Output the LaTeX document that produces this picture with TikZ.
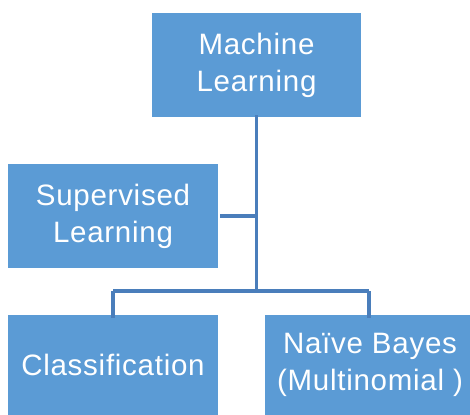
\documentclass[tikz,border=0pt]{standalone}
\usepackage{fontspec}
\setmainfont{Liberation Sans}[LetterSpace=2.5]
\definecolor{boxblue}{HTML}{5B9BD5}
\definecolor{lineblue}{HTML}{4A7EBB}
\begin{document}
\begin{tikzpicture}[x=1pt,y=-1pt,
  box/.style={fill=boxblue,draw=none,text=white,align=center,inner sep=0pt,
    font=\fontsize{29.5}{37}\selectfont},
  conn/.style={draw=lineblue,line width=3.2pt}]
\useasboundingbox (0,0) rectangle (470,414);
\fill[white] (0,0) rectangle (470,414);
\node[box,minimum width=209pt,minimum height=104pt] (ml) at (256.5,65) {Machine\\Learning};
\node[box,minimum width=210pt,minimum height=104pt] (sup) at (113,216) {Supervised\\Learning};
\node[box,minimum width=210pt,minimum height=100pt] (cls) at (113,365) {Classification};
\node[box,minimum width=210pt,minimum height=100pt] (nb) at (370,365) {Naïve Bayes\\(Multinomial )};
\coordinate (junc) at (256.5,291);
\coordinate (left) at (113,291);
\coordinate (right) at (369,291);
\draw[conn] ([yshift=2pt]ml.south) -- (ml.south |- junc);
\draw[conn] ([xshift=2pt]sup.east) -- (sup.east -| junc);
\draw[conn] (left) -- (right);
\draw[conn] (left) -- ([yshift=-3pt]left |- cls.north);
\draw[conn] (right) -- ([yshift=-3pt]right |- nb.north);
\end{tikzpicture}
\end{document}
